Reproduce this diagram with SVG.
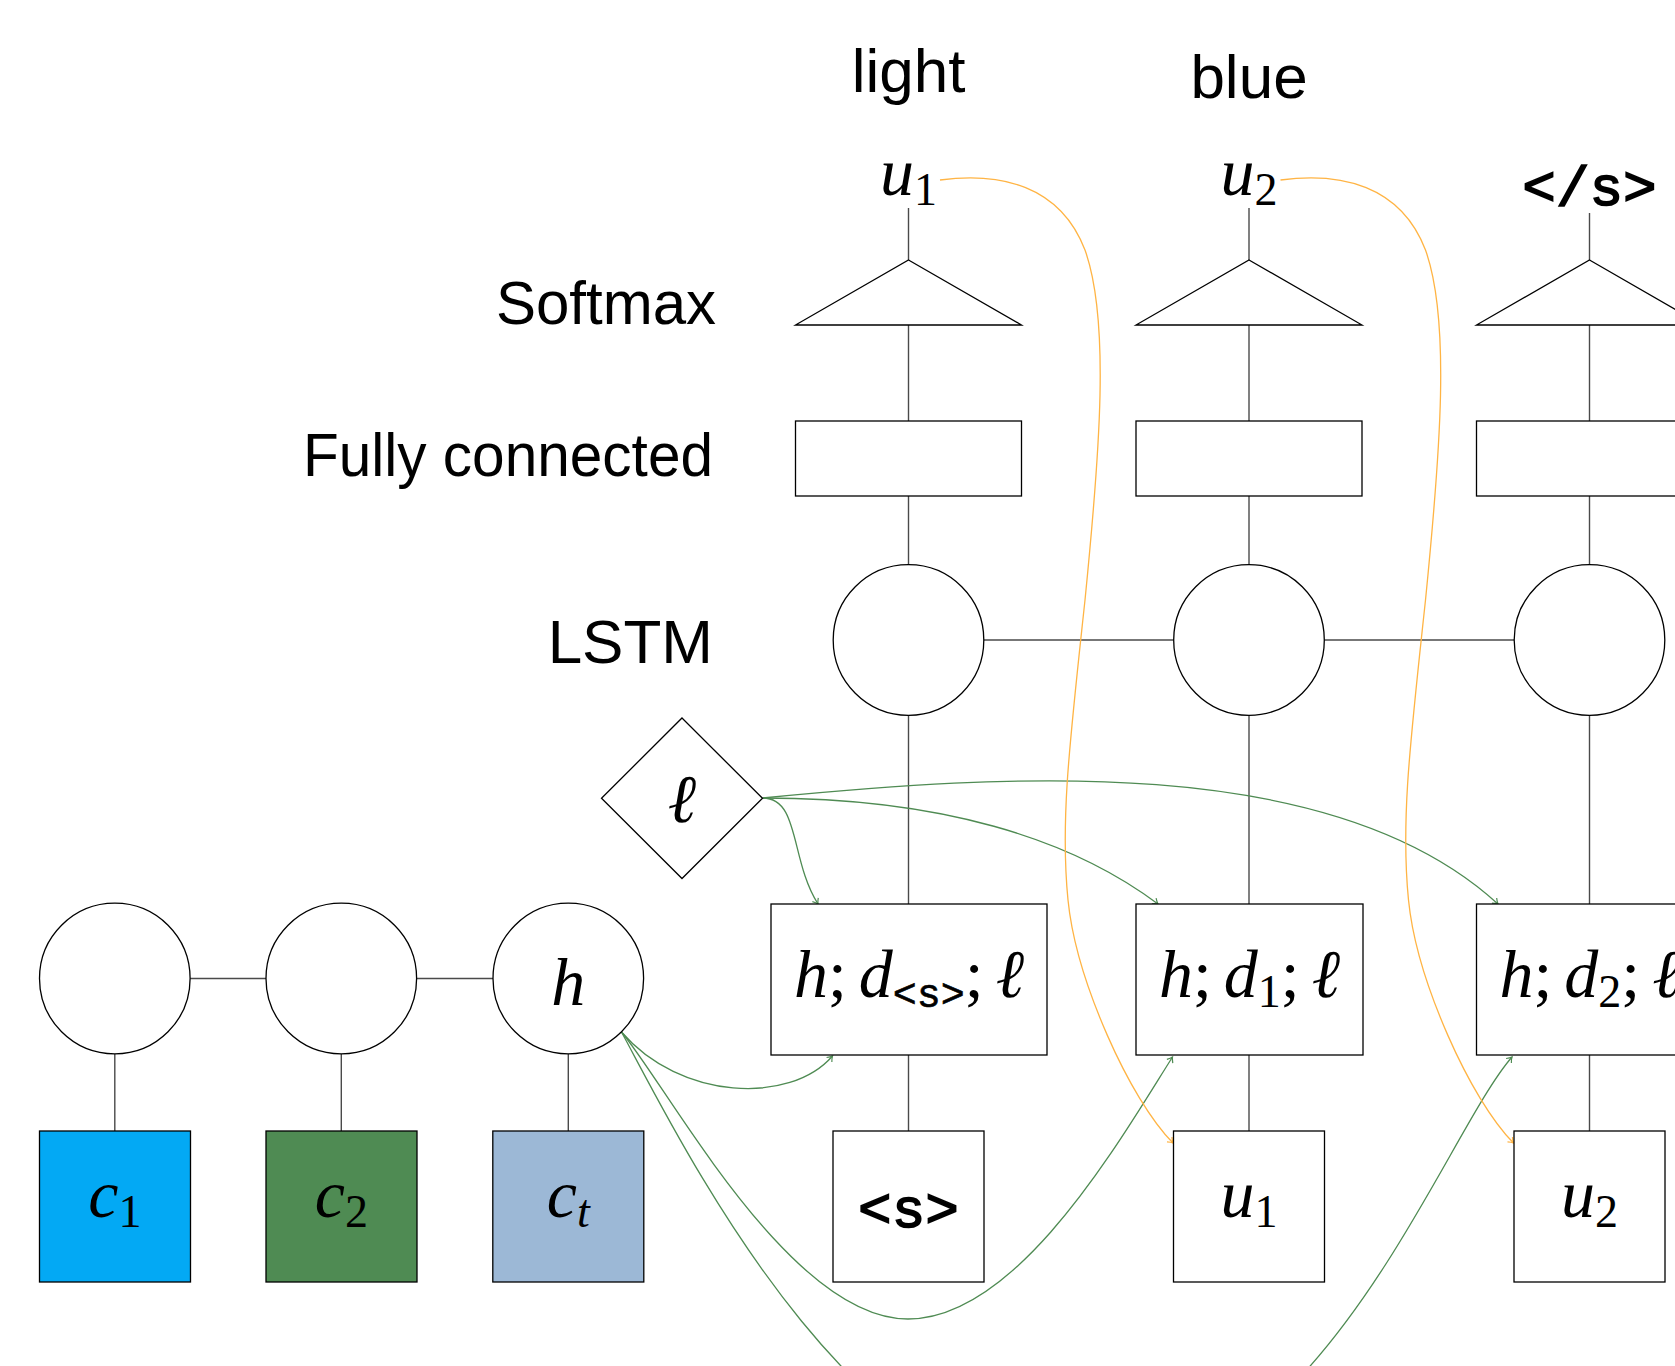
<svg xmlns="http://www.w3.org/2000/svg" width="1675" height="1366" viewBox="0 0 1675 1366">
  <style>
    .shape { fill: #ffffff; stroke: #000000; stroke-width: 1.3; }
    .link { stroke: #4a4a4a; stroke-width: 1.4; fill: none; }
    .green { stroke: #4f8b53; stroke-width: 1.3; fill: none; marker-end: url(#arrowGreen); }
    .orange { stroke: #ffb444; stroke-width: 1.3; fill: none; marker-end: url(#arrowOrange); }
    .label { font-family: "Liberation Sans", Arial, sans-serif; font-size: 62px; fill: #000; }
    .m { font-family: "Liberation Serif", "DejaVu Serif", serif; font-size: 68px; fill: #000; }
    .i { font-style: italic; }
    .sub { font-size: 46px; }
    .tt { font-family: "Liberation Mono", "DejaVu Sans Mono", monospace; font-size: 56px; fill: #000; stroke: #000; stroke-width: 1.6; }
    .tts { font-family: "Liberation Mono", "DejaVu Sans Mono", monospace; font-size: 40px; fill: #000; stroke: #000; stroke-width: 0.6; }
  </style>
  <defs>
    <marker id="arrowGreen" markerUnits="userSpaceOnUse" viewBox="-8 -5 10 10" markerWidth="10" markerHeight="10" refX="0" refY="0" orient="auto">
      <path d="M -5 -3.5 Q -2 -0.8 0 0 Q -2 0.8 -5 3.5" fill="none" stroke="#4f8b53" stroke-width="1.2"/>
    </marker>
    <marker id="arrowOrange" markerUnits="userSpaceOnUse" viewBox="-8 -5 10 10" markerWidth="10" markerHeight="10" refX="0" refY="0" orient="auto">
      <path d="M -5 -3.5 Q -2 -0.8 0 0 Q -2 0.8 -5 3.5" fill="none" stroke="#ffb444" stroke-width="1.2"/>
    </marker>
  </defs>

  <rect x="0" y="0" width="1675" height="1366" fill="#ffffff"/>

  <!-- row labels -->
  <g id="row-labels">
    <text class="label" x="716" y="324" text-anchor="end" textLength="220" lengthAdjust="spacingAndGlyphs">Softmax</text>
    <text class="label" x="713" y="476" text-anchor="end" textLength="410" lengthAdjust="spacingAndGlyphs">Fully connected</text>
    <text class="label" x="713" y="663" text-anchor="end">LSTM</text>
  </g>

  <!-- plain connecting lines -->
  <g id="connectors">
    <!-- column 1 -->
    <line class="link" x1="908.5" y1="208" x2="908.5" y2="260"/>
    <line class="link" x1="908.5" y1="325" x2="908.5" y2="421"/>
    <line class="link" x1="908.5" y1="496" x2="908.5" y2="564.7"/>
    <line class="link" x1="908.5" y1="715.3" x2="908.5" y2="904"/>
    <line class="link" x1="908.5" y1="1055" x2="908.5" y2="1131"/>
    <!-- column 2 -->
    <line class="link" x1="1249" y1="208" x2="1249" y2="260"/>
    <line class="link" x1="1249" y1="325" x2="1249" y2="421"/>
    <line class="link" x1="1249" y1="496" x2="1249" y2="564.7"/>
    <line class="link" x1="1249" y1="715.3" x2="1249" y2="904"/>
    <line class="link" x1="1249" y1="1055" x2="1249" y2="1131"/>
    <!-- column 3 -->
    <line class="link" x1="1589.5" y1="213" x2="1589.5" y2="260"/>
    <line class="link" x1="1589.5" y1="325" x2="1589.5" y2="421"/>
    <line class="link" x1="1589.5" y1="496" x2="1589.5" y2="564.7"/>
    <line class="link" x1="1589.5" y1="715.3" x2="1589.5" y2="904"/>
    <line class="link" x1="1589.5" y1="1055" x2="1589.5" y2="1131"/>
    <!-- LSTM recurrence -->
    <line class="link" x1="983.8" y1="640" x2="1173.7" y2="640"/>
    <line class="link" x1="1324.3" y1="640" x2="1514.2" y2="640"/>
    <!-- context encoder -->
    <line class="link" x1="190.1" y1="978.5" x2="266" y2="978.5"/>
    <line class="link" x1="416.6" y1="978.5" x2="493" y2="978.5"/>
    <line class="link" x1="114.8" y1="1053.8" x2="114.8" y2="1131"/>
    <line class="link" x1="341.3" y1="1053.8" x2="341.3" y2="1131"/>
    <line class="link" x1="568.3" y1="1053.8" x2="568.3" y2="1131"/>

    <!-- length feature into each decoder input -->
    <path class="green" d="M 762.7 798 C 800 798, 790 860, 818 904"/>
    <path class="green" d="M 762.7 798 C 940 798, 1070 838, 1158 904"/>
    <path class="green" d="M 762.7 798 C 1000 775, 1330 750, 1498 904"/>

    <!-- encoder state into each decoder input -->
    <path class="green" d="M 621.5 1032 C 680 1100, 790 1105, 832.5 1056"/>
    <path class="green" d="M 621.5 1032 C 670 1090, 790 1319, 908 1319 C 1018 1319, 1120 1140, 1172.5 1057"/>
    <path class="green" d="M 621.5 1032 C 680 1140, 850 1490, 1076 1490 C 1320 1490, 1440 1140, 1512 1057"/>

    <!-- predicted word fed back as next input -->
    <path class="orange" d="M 940 180 C 1000 172, 1060 185, 1085 250 C 1110 320, 1100 450, 1085 600 C 1070 740, 1060 820, 1068 900 C 1076 980, 1130 1100, 1173 1143"/>
    <path class="orange" d="M 1280.5 180 C 1340.5 172, 1400.5 185, 1425.5 250 C 1450.5 320, 1440.5 450, 1425.5 600 C 1410.5 740, 1400.5 820, 1408.5 900 C 1416.5 980, 1470.5 1100, 1513.5 1143"/>
  </g>

  <!-- output words -->
  <g id="word-light"><text class="label" x="908.5" y="92" text-anchor="middle">light</text></g>
  <g id="word-blue"><text class="label" x="1249" y="98" text-anchor="middle">blue</text></g>

  <!-- softmax outputs -->
  <g id="out-u1"><text class="m" x="908.5" y="195" text-anchor="middle"><tspan class="i">u</tspan><tspan class="sub" dy="10">1</tspan></text></g>
  <g id="out-u2"><text class="m" x="1249" y="195" text-anchor="middle"><tspan class="i">u</tspan><tspan class="sub" dy="10">2</tspan></text></g>
  <g id="out-end"><text class="tt" x="1589.5" y="205" text-anchor="middle">&lt;/s&gt;</text></g>

  <!-- softmax layers -->
  <g id="softmax-1"><polygon class="shape" points="908.5,260 1021.5,325 795.5,325"/></g>
  <g id="softmax-2"><polygon class="shape" points="1249,260 1362,325 1136,325"/></g>
  <g id="softmax-3"><polygon class="shape" points="1589.5,260 1702.5,325 1476.5,325"/></g>

  <!-- fully connected layers -->
  <g id="fc-1"><rect class="shape" x="795.5" y="421" width="226" height="75"/></g>
  <g id="fc-2"><rect class="shape" x="1136" y="421" width="226" height="75"/></g>
  <g id="fc-3"><rect class="shape" x="1476.5" y="421" width="226" height="75"/></g>

  <!-- LSTM cells -->
  <g id="lstm-1"><circle class="shape" cx="908.5" cy="640" r="75.3"/></g>
  <g id="lstm-2"><circle class="shape" cx="1249" cy="640" r="75.3"/></g>
  <g id="lstm-3"><circle class="shape" cx="1589.5" cy="640" r="75.3"/></g>

  <!-- length feature -->
  <g id="length">
    <polygon class="shape" points="682,718 762.5,798.3 682,878.5 601.5,798.3"/>
    <text class="m i" x="682" y="822" text-anchor="middle">ℓ</text>
  </g>

  <!-- decoder inputs -->
  <g id="dec-in-1">
    <rect class="shape" x="771" y="904" width="276" height="151"/>
    <text class="m" x="909" y="997" text-anchor="middle"><tspan class="i">h</tspan>;<tspan class="i" dx="12">d</tspan><tspan class="tts" dy="10">&lt;s&gt;</tspan><tspan dy="-10">;</tspan><tspan class="i" dx="12">ℓ</tspan></text>
  </g>
  <g id="dec-in-2">
    <rect class="shape" x="1136" y="904" width="227" height="151"/>
    <text class="m" x="1249.5" y="997" text-anchor="middle"><tspan class="i">h</tspan>;<tspan class="i" dx="12">d</tspan><tspan class="sub" dy="10">1</tspan><tspan dy="-10">;</tspan><tspan class="i" dx="12">ℓ</tspan></text>
  </g>
  <g id="dec-in-3">
    <rect class="shape" x="1476.5" y="904" width="227" height="151"/>
    <text class="m" x="1590" y="997" text-anchor="middle"><tspan class="i">h</tspan>;<tspan class="i" dx="12">d</tspan><tspan class="sub" dy="10">2</tspan><tspan dy="-10">;</tspan><tspan class="i" dx="12">ℓ</tspan></text>
  </g>

  <!-- previous-token inputs -->
  <g id="tok-start">
    <rect class="shape" x="833" y="1131" width="151" height="151"/>
    <text class="tt" x="908.5" y="1227" text-anchor="middle">&lt;s&gt;</text>
  </g>
  <g id="tok-u1">
    <rect class="shape" x="1173.5" y="1131" width="151" height="151"/>
    <text class="m" x="1249" y="1217" text-anchor="middle"><tspan class="i">u</tspan><tspan class="sub" dy="10">1</tspan></text>
  </g>
  <g id="tok-u2">
    <rect class="shape" x="1514" y="1131" width="151" height="151"/>
    <text class="m" x="1589.5" y="1217" text-anchor="middle"><tspan class="i">u</tspan><tspan class="sub" dy="10">2</tspan></text>
  </g>

  <!-- context encoder states -->
  <g id="enc-1"><circle class="shape" cx="114.8" cy="978.5" r="75.3"/></g>
  <g id="enc-2"><circle class="shape" cx="341.3" cy="978.5" r="75.3"/></g>
  <g id="enc-h">
    <circle class="shape" cx="568.3" cy="978.5" r="75.3"/>
    <text class="m i" x="568.3" y="1005" text-anchor="middle">h</text>
  </g>

  <!-- context colours -->
  <g id="ctx-1">
    <rect class="shape" x="39.5" y="1131" width="151" height="151" style="fill:#03a9f4"/>
    <text class="m" x="114.8" y="1217" text-anchor="middle"><tspan class="i">c</tspan><tspan class="sub" dy="10">1</tspan></text>
  </g>
  <g id="ctx-2">
    <rect class="shape" x="266" y="1131" width="151" height="151" style="fill:#4f8b53"/>
    <text class="m" x="341.3" y="1217" text-anchor="middle"><tspan class="i">c</tspan><tspan class="sub" dy="10">2</tspan></text>
  </g>
  <g id="ctx-t">
    <rect class="shape" x="492.8" y="1131" width="151" height="151" style="fill:#9cb8d6"/>
    <text class="m" x="568.3" y="1217" text-anchor="middle"><tspan class="i">c</tspan><tspan class="sub i" dy="10">t</tspan></text>
  </g>
</svg>
